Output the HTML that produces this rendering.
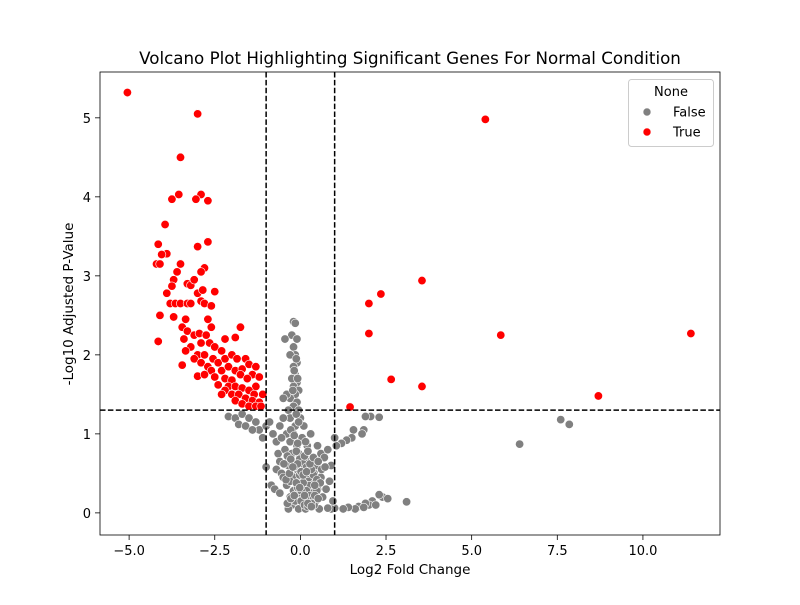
<!DOCTYPE html>
<html><head><meta charset="utf-8"><style>
body{margin:0;background:#fff}
svg{font-family:"DejaVu Sans","Liberation Sans",sans-serif}
</style></head><body>
<svg id="chart" width="800" height="600" xmlns="http://www.w3.org/2000/svg">
<rect width="800" height="600" fill="#fff"/>
<text x="410" y="64" font-size="16.7" text-anchor="middle">Volcano Plot Highlighting Significant Genes For Normal Condition</text>
<g id="marks"></g>
<g id="axes"></g>
</svg>
<script>
const xTicks=[-5.0,-2.5,0.0,2.5,5.0,7.5,10.0];
const xTickLabels=["−5.0","−2.5","0.0","2.5","5.0","7.5","10.0"];
const yTicks=[0,1,2,3,4,5];
const yTickLabels=["0","1","2","3","4","5"];
const redX=[-5.05,-3.0,5.4,-3.5,-3.55,-3.75,-2.9,-3.05,-2.7,-3.95,-4.15,-3.9,-4.05,-4.2,-4.1,-3.5,-2.7,-3.0,-2.8,-2.9,-3.6,-3.7,-3.3,-3.2,-3.1,-3.9,-3.75,-3.8,-3.65,-3.5,-3.3,-3.2,-2.9,-2.8,-2.6,-2.5,-3.0,-2.85,-4.1,-3.7,-3.35,-2.7,-3.45,-3.3,-3.1,-2.95,-2.75,-2.6,-2.2,-1.9,-1.75,-4.15,-3.4,-3.2,-2.9,-2.65,-2.5,-2.3,-3.35,-3.0,-2.8,-2.55,-2.4,-2.2,-2.0,-1.85,-1.6,-1.5,-1.3,-3.45,-3.1,-2.9,-2.7,-2.6,-2.3,-2.1,-1.9,-1.7,-1.4,-1.2,-3.0,-2.8,-2.5,-2.2,-2.0,-1.75,-1.55,-1.3,-2.4,-2.1,-1.9,-1.7,-1.5,-1.35,-2.2,-2.0,-1.8,-1.6,-1.4,-1.2,-1.9,-1.7,-1.5,-1.3,-2.3,-1.1,-1.15,2.0,2.35,3.55,2.0,5.85,11.4,2.65,3.55,8.7,1.45];
const redY=[5.32,5.05,4.98,4.5,4.03,3.97,4.03,3.97,3.95,3.65,3.4,3.28,3.27,3.15,3.15,3.15,3.43,3.37,3.1,3.05,3.05,2.95,2.9,2.88,2.95,2.78,2.87,2.65,2.65,2.65,2.65,2.65,2.68,2.65,2.62,2.8,2.78,2.82,2.5,2.48,2.45,2.45,2.35,2.3,2.25,2.27,2.25,2.35,2.2,2.22,2.35,2.17,2.2,2.1,2.15,2.15,2.1,2.05,2.05,2.0,2.0,1.95,1.9,1.95,2.0,1.95,1.95,1.88,1.85,1.87,1.95,1.9,1.85,1.8,1.8,1.85,1.8,1.82,1.75,1.72,1.73,1.75,1.72,1.7,1.68,1.75,1.7,1.6,1.62,1.6,1.6,1.58,1.55,1.5,1.55,1.5,1.5,1.45,1.42,1.4,1.42,1.38,1.35,1.35,1.5,1.5,1.35,2.65,2.77,2.94,2.27,2.25,2.27,1.69,1.6,1.48,1.34];
const grayX=[7.6,7.85,6.4,2.05,2.3,1.9,1.85,1.8,1.55,1.5,1.35,1.2,1.05,1.0,2.4,2.55,2.3,2.1,2.0,1.9,1.7,1.6,1.85,2.2,3.1,1.4,1.25,1.0,0.9,0.8,-2.1,-1.9,-1.7,-1.5,-1.3,-1.2,-1.0,-1.8,-1.6,-1.4,-1.1,-0.9,-0.8,-1.0,-0.85,-0.75,-0.7,-0.6,-0.55,-0.65,-0.2,-0.15,-0.25,-0.1,-0.2,-0.15,-0.1,-0.2,-0.15,-0.1,-0.2,-0.05,-0.15,-0.3,-0.1,-0.2,-0.4,-0.5,-0.35,-0.45,-0.3,-0.25,-0.05,0.0,-0.3,-0.5,-0.6,-0.15,0.1,-0.4,-0.2,0.05,-0.7,-0.55,-0.3,-0.1,0.2,0.5,0.6,0.7,0.8,0.9,-0.45,-0.25,0.0,0.3,0.45,-0.6,-0.35,-0.1,0.15,0.4,0.6,-0.5,-0.2,0.05,0.3,0.5,-0.4,-0.15,0.1,0.35,-0.3,0.0,0.2,0.45,-0.25,-0.05,0.15,0.35,0.55,-0.15,0.25,0.1,-0.05,0.25,-0.35,0.65,0.75,0.85,0.95,0.3,0.15,0.0,0.2,-0.1,0.4,-0.3,0.1,0.3,-0.2,0.05,
-0.12,-0.18,-0.08,-0.22,-0.12,-0.05,-0.28,-0.18,-0.08,-0.12,-0.02,0.08,0.18,0.28,0.38,0.48,0.58,-0.02,0.08,0.18,0.28,0.38,0.48,-0.08,0.02,0.12,0.22,0.32,0.42,0.52,-0.38,-0.28,-0.18,-0.08,0.02,0.12,0.22,0.32,-0.48,-0.38,-0.28,-0.18,-0.08,0.02,0.12,0.22,0.32,0.42,-0.42,-0.32,-0.22,-0.12,-0.02,0.08,0.18,0.28,0.38,0.52,0.62,0.72];
const grayY=[1.18,1.12,0.87,1.22,1.21,1.22,1.05,1.0,1.05,0.95,0.92,0.88,0.85,0.95,0.2,0.18,0.23,0.15,0.1,0.12,0.08,0.05,0.07,0.1,0.14,0.07,0.05,0.06,0.05,0.06,1.22,1.2,1.25,1.2,1.15,1.05,1.1,1.12,1.1,1.05,0.95,1.15,1.0,0.58,0.35,0.3,0.55,0.25,0.5,0.75,2.42,2.4,2.25,2.2,2.1,2.0,1.9,1.85,1.75,1.65,1.6,1.55,1.5,1.45,1.4,1.35,1.5,1.45,1.3,2.2,2.0,1.7,1.3,1.2,1.2,1.2,1.1,1.1,1.1,1.0,1.0,0.95,0.9,0.95,0.9,0.85,0.85,0.85,0.75,0.7,0.8,0.6,0.8,0.75,0.7,0.65,0.6,0.65,0.6,0.55,0.55,0.5,0.45,0.45,0.45,0.4,0.4,0.3,0.35,0.3,0.3,0.25,0.2,0.2,0.15,0.15,0.1,0.05,0.05,0.08,0.05,0.15,0.35,0.65,0.75,0.45,0.05,0.2,0.3,0.4,0.15,1.0,0.9,0.25,0.5,0.6,0.1,0.4,0.12,0.2,0.28,0.35,
1.95,1.8,1.7,1.55,1.25,1.15,1.05,0.98,0.88,0.78,0.68,0.62,0.58,0.52,0.48,0.42,0.38,0.48,0.38,0.28,0.22,0.18,0.28,0.25,0.15,0.1,0.08,0.12,0.22,0.18,0.12,0.18,0.22,0.32,0.28,0.22,0.12,0.08,0.62,0.72,0.68,0.58,0.62,0.52,0.72,0.78,0.55,0.35,0.42,0.5,0.58,0.38,0.32,0.48,0.52,0.62,0.7,0.65,0.55,0.58];
const vLines=[-1,1], hLine=1.3;
const NS="http://www.w3.org/2000/svg";
const L=100,R=720,T=72,B=535;
const xMin=-5.85,xMax=12.25,yMin=-0.28,yMax=5.58;
const sx=v=>L+(v-xMin)/(xMax-xMin)*(R-L);
const sy=v=>B-(v-yMin)/(yMax-yMin)*(B-T);
const marks=document.getElementById('marks'),axes=document.getElementById('axes');
function mk(tag,at,parent){const e=document.createElementNS(NS,tag);for(const k in at)e.setAttribute(k,at[k]);parent.appendChild(e);return e;}
grayX.forEach((x,i)=>{const c=mk('circle',{cx:sx(x),cy:sy(grayY[i]),r:4.2,fill:'#808080',stroke:'#fff','stroke-width':0.6},marks);

});
redX.forEach((x,i)=>{const c=mk('circle',{cx:sx(x),cy:sy(redY[i]),r:4.2,fill:'#ff0000',stroke:'#fff','stroke-width':0.6},marks);

});
vLines.forEach(v=>{const l=mk('line',{x1:sx(v),x2:sx(v),y1:T,y2:B,stroke:'#000','stroke-width':1.5,'stroke-dasharray':'5.5,2.4'},marks);

});
const hl=mk('line',{x1:L,x2:R,y1:sy(hLine),y2:sy(hLine),stroke:'#000','stroke-width':1.5,'stroke-dasharray':'5.5,2.4'},marks);


const fr=mk('rect',{x:L,y:T,width:R-L,height:B-T,fill:'none',stroke:'#000','stroke-width':0.8},axes);


xTicks.forEach((v,i)=>{const x=sx(v);mk('line',{x1:x,x2:x,y1:B,y2:B+5,stroke:'#000','stroke-width':0.8},axes);
const t=mk('text',{x:x,y:B+20,'font-size':13,'text-anchor':'middle'},axes);t.textContent=xTickLabels[i];

});
yTicks.forEach((v,i)=>{const y=sy(v);mk('line',{x1:L-5,x2:L,y1:y,y2:y,stroke:'#000','stroke-width':0.8},axes);
const t=mk('text',{x:L-9,y:y+5,'font-size':13,'text-anchor':'end'},axes);t.textContent=yTickLabels[i];

});
const xt=mk('text',{x:410,y:574,'font-size':13.5,'text-anchor':'middle'},axes);xt.textContent='Log2 Fold Change';


const yt=mk('text',{x:73,y:304,'font-size':13.5,'text-anchor':'middle',transform:'rotate(-90 73 304)'},axes);yt.textContent='-Log10 Adjusted P-Value';


const lg=mk('g',{},axes);


mk('rect',{x:628.5,y:79.5,width:85,height:67,rx:3,fill:'#fff','fill-opacity':0.8,stroke:'#ccc','stroke-width':1},lg);
const lt=mk('text',{x:671,y:96,'font-size':13,'text-anchor':'middle'},lg);lt.textContent='None';
[['False','#808080',112],['True','#ff0000',132]].forEach(([n,c,y])=>{
const e=mk('g',{},lg);


mk('circle',{cx:647,cy:y,r:4,fill:c,stroke:'#fff','stroke-width':0.6},e);
const t=mk('text',{x:673,y:y+4.5,'font-size':13},e);t.textContent=n;});
</script>
</body></html>
